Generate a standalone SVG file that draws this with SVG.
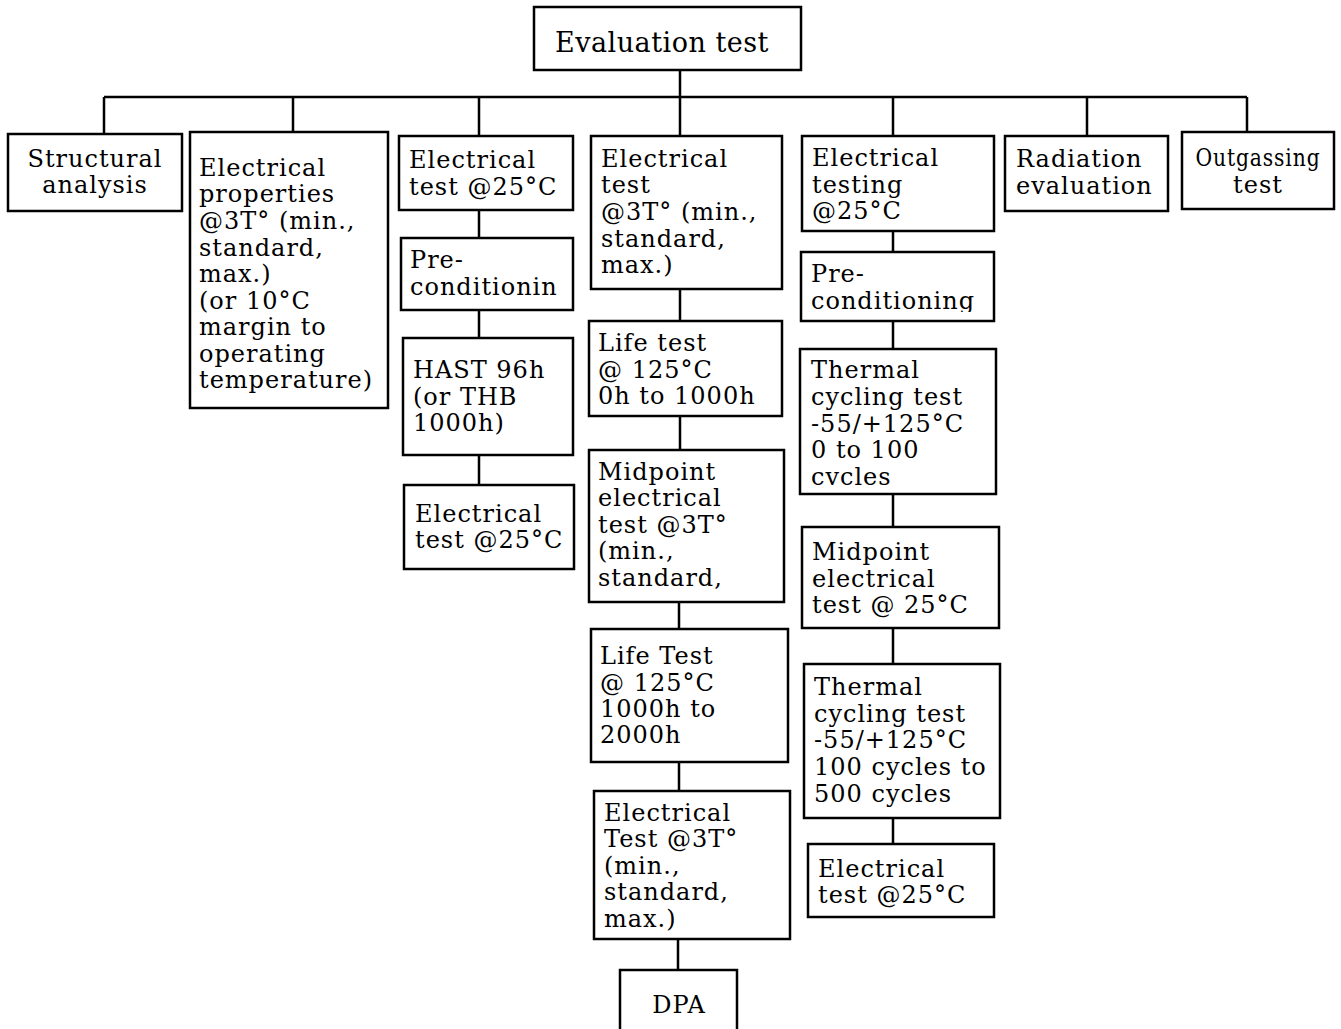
<svg xmlns="http://www.w3.org/2000/svg" width="1341" height="1029" viewBox="0 0 1341 1029">
<style>
.box{fill:#fff;stroke:#000;stroke-width:2.5}
.t{font-family:"DejaVu Serif","Liberation Serif",serif;font-size:24px;letter-spacing:1px;fill:#000}
.m{text-anchor:middle}
.c{stroke:#000;stroke-width:2.5;fill:none}
</style>
<defs>
<clipPath id="clipPre"><rect x="801" y="252" width="193" height="60"/></clipPath>
</defs>
<rect width="1341" height="1029" fill="#fff"/>
<g id="connectors">
<path class="c" d="M680 70V97M104 97H1247M104 97V134M293 97V132M479 97V136M680 97V136M893 97V136M1087 97V136M1247 97V132"/>
<path class="c" d="M479 210V238M479 310V338M479 455V485"/>
<path class="c" d="M680 289V321M680 416V450M679 602V629M679 762V791M678 939V970"/>
<path class="c" d="M893 231V252M893 321V349M893 494V527M893 628V664M893 818V844"/>
</g>
<g id="root"><rect class="box" x="534" y="7" width="267" height="63"/><text class="t m" x="662" y="52" style="font-size:27px;letter-spacing:0.5px">Evaluation test</text></g>
<g id="structural"><rect class="box" x="8" y="134" width="174" height="77"/><text class="t m"><tspan x="95" y="167">Structural</tspan><tspan x="95" y="193">analysis</tspan></text></g>
<g id="elecprops"><rect class="box" x="190" y="132" width="198" height="276"/><text class="t"><tspan x="199" y="176">Electrical</tspan><tspan x="199" y="202">properties</tspan><tspan x="199" y="229">@3T° (min.,</tspan><tspan x="199" y="256">standard,</tspan><tspan x="199" y="282">max.)</tspan><tspan x="199" y="309">(or 10°C</tspan><tspan x="199" y="335">margin to</tspan><tspan x="199" y="362">operating</tspan><tspan x="199" y="388">temperature)</tspan></text></g>
<g id="c3a"><rect class="box" x="399" y="136" width="174" height="74"/><text class="t"><tspan x="409" y="168">Electrical</tspan><tspan x="409" y="195">test @25°C</tspan></text></g>
<g id="c3b"><rect class="box" x="401" y="238" width="172" height="72"/><text class="t"><tspan x="410" y="268">Pre-</tspan><tspan x="410" y="295">conditionin</tspan></text></g>
<g id="c3c"><rect class="box" x="403" y="338" width="170" height="117"/><text class="t"><tspan x="413" y="378">HAST 96h</tspan><tspan x="413" y="405">(or THB</tspan><tspan x="413" y="431">1000h)</tspan></text></g>
<g id="c3d"><rect class="box" x="404" y="485" width="170" height="84"/><text class="t"><tspan x="415" y="522">Electrical</tspan><tspan x="415" y="548">test @25°C</tspan></text></g>
<g id="c4a"><rect class="box" x="591" y="136" width="191" height="153"/><text class="t"><tspan x="601" y="167">Electrical</tspan><tspan x="601" y="193">test</tspan><tspan x="601" y="220">@3T° (min.,</tspan><tspan x="601" y="247">standard,</tspan><tspan x="601" y="273">max.)</tspan></text></g>
<g id="c4b"><rect class="box" x="589" y="321" width="193" height="95"/><text class="t"><tspan x="598" y="351">Life test</tspan><tspan x="598" y="378">@ 125°C</tspan><tspan x="598" y="404">0h to 1000h</tspan></text></g>
<g id="c4c"><rect class="box" x="589" y="450" width="195" height="152"/><text class="t"><tspan x="598" y="480">Midpoint</tspan><tspan x="598" y="506">electrical</tspan><tspan x="598" y="533">test @3T°</tspan><tspan x="598" y="559">(min.,</tspan><tspan x="598" y="586">standard,</tspan></text></g>
<g id="c4d"><rect class="box" x="591" y="629" width="197" height="133"/><text class="t"><tspan x="600" y="664">Life Test</tspan><tspan x="600" y="691">@ 125°C</tspan><tspan x="600" y="717">1000h to</tspan><tspan x="600" y="743">2000h</tspan></text></g>
<g id="c4e"><rect class="box" x="594" y="791" width="196" height="148"/><text class="t"><tspan x="604" y="821">Electrical</tspan><tspan x="604" y="847">Test @3T°</tspan><tspan x="604" y="874">(min.,</tspan><tspan x="604" y="900">standard,</tspan><tspan x="604" y="927">max.)</tspan></text></g>
<g id="dpa"><rect class="box" x="620" y="970" width="117" height="70"/><text class="t m" x="679" y="1013">DPA</text></g>
<g id="c5a"><rect class="box" x="802" y="136" width="192" height="95"/><text class="t"><tspan x="812" y="166">Electrical</tspan><tspan x="812" y="193">testing</tspan><tspan x="812" y="219">@25°C</tspan></text></g>
<g id="c5b"><rect class="box" x="801" y="252" width="193" height="69"/><text class="t" clip-path="url(#clipPre)"><tspan x="811" y="282">Pre-</tspan><tspan x="811" y="309">conditioning</tspan></text></g>
<g id="c5c"><rect class="box" x="800" y="349" width="196" height="145"/><text class="t"><tspan x="811" y="378">Thermal</tspan><tspan x="811" y="405">cycling test</tspan><tspan x="811" y="432">-55/+125°C</tspan><tspan x="811" y="458">0 to 100</tspan><tspan x="811" y="485">cvcles</tspan></text></g>
<g id="c5d"><rect class="box" x="802" y="527" width="197" height="101"/><text class="t"><tspan x="812" y="560">Midpoint</tspan><tspan x="812" y="587">electrical</tspan><tspan x="812" y="613">test @ 25°C</tspan></text></g>
<g id="c5e"><rect class="box" x="804" y="664" width="196" height="154"/><text class="t"><tspan x="814" y="695">Thermal</tspan><tspan x="814" y="722">cycling test</tspan><tspan x="814" y="748">-55/+125°C</tspan><tspan x="814" y="775">100 cycles to</tspan><tspan x="814" y="802">500 cycles</tspan></text></g>
<g id="c5f"><rect class="box" x="808" y="844" width="186" height="73"/><text class="t"><tspan x="818" y="877">Electrical</tspan><tspan x="818" y="903">test @25°C</tspan></text></g>
<g id="radiation"><rect class="box" x="1005" y="136" width="163" height="75"/><text class="t"><tspan x="1016" y="167">Radiation</tspan><tspan x="1016" y="194">evaluation</tspan></text></g>
<g id="outgassing"><rect class="box" x="1182" y="132" width="152" height="77"/><text class="t m"><tspan x="1258" y="166" textLength="125" lengthAdjust="spacingAndGlyphs">Outgassing</tspan><tspan x="1258" y="193">test</tspan></text></g>
</svg>
